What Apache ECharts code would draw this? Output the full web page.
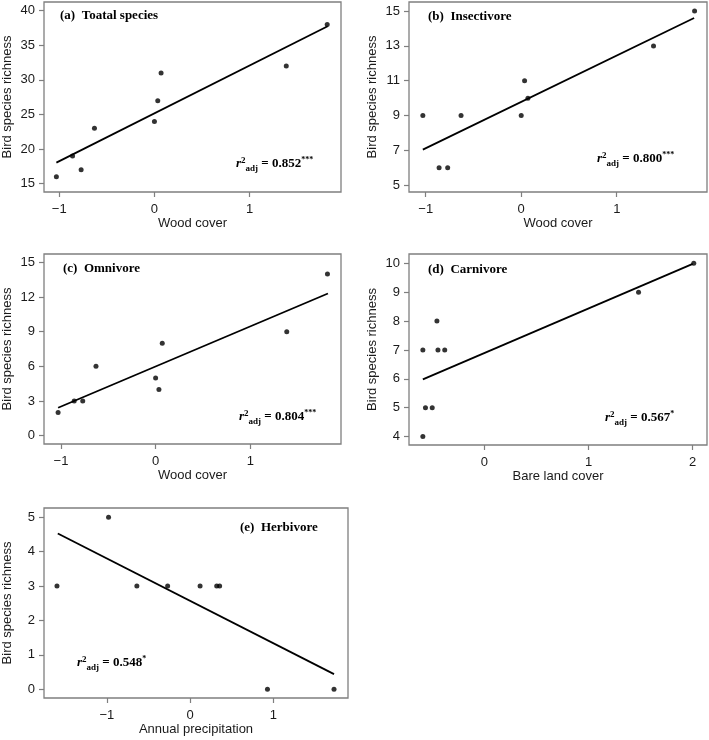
<!DOCTYPE html>
<html>
<head>
<meta charset="utf-8">
<style>
  html, body { margin: 0; padding: 0; background: #fff; }
  #chart { width: 709px; height: 740px; }
</style>
<script src="https://cdn.jsdelivr.net/npm/echarts@6/dist/echarts.min.js"></script>
</head>
<body>
<div id="chart"></div>
<script>
// x values (standardised predictors)
var woodCover = [-1.03, -0.86, -0.77, -0.63, 0.0, 0.035, 0.07, 1.385, 1.815];
var bareLand = [-0.59, -0.565, -0.50, -0.59, -0.455, -0.445, -0.38, 1.48, 2.01];
var precipitation = [-1.6, -0.98, -0.64, -0.27, 0.12, 0.32, 0.355, 0.93, 1.73];

// bird species richness
var totalSpecies = [16, 19, 17, 23, 24, 27, 31, 32, 38];
var insectivore = [9, 6, 6, 9, 9, 11, 10, 13, 15];
var omnivore = [2, 3, 3, 6, 5, 4, 8, 9, 14];
var carnivore = [7, 5, 5, 4, 8, 7, 7, 9, 10];
var herbivore = [3, 5, 3, 3, 3, 3, 3, 0, 0];

// fitted lines (end points)
var fitA = [[-1.03, 18.05], [1.82, 37.75]];
var fitB = [[-1.03, 7.04], [1.81, 14.6]];
var fitC = [[-1.03, 2.42], [1.82, 12.3]];
var fitD = [[-0.59, 5.98], [2.0, 9.98]];
var fitE = [[-1.59, 4.53], [1.73, 0.44]];

// tick labels
var xTicksWood = [-1, 0, 1];
var xTicksBare = [0, 1, 2];
var xTicksPrec = [-1, 0, 1];
var yTicksA = [15, 20, 25, 30, 35, 40];
var yTicksB = [5, 7, 9, 11, 13, 15];
var yTicksC = [0, 3, 6, 9, 12, 15];
var yTicksD = [4, 5, 6, 7, 8, 9, 10];
var yTicksE = [0, 1, 2, 3, 4, 5];

var panelTitles = ['(a)  Toatal species', '(b)  Insectivore', '(c)  Omnivore', '(d)  Carnivore', '(e)  Herbivore'];
var r2Values = ['0.852', '0.800', '0.804', '0.567', '0.548'];
var r2Stars = ['***', '***', '***', '*', '*'];
var xNames = ['Wood cover', 'Wood cover', 'Wood cover', 'Bare land cover', 'Annual precipitation'];

function zip(xs, ys) {
    var out = [];
    for (var i = 0; i < xs.length; i++) {
        out.push([xs[i], ys[i]]);
    }
    return out;
}

function minus(v) {
    return String(v).replace('-', '\u2212');
}

var frameColor = '#7f7f7f';
var textColor = '#1a1a1a';
var sans = '"Liberation Sans", Arial, sans-serif';
var serif = '"Liberation Serif", "Times New Roman", serif';

var grids = [
    { left: 43, top: 2, width: 298, height: 190 },
    { left: 409, top: 2, width: 298, height: 190 },
    { left: 43, top: 254, width: 298, height: 190 },
    { left: 409, top: 254, width: 298, height: 191 },
    { left: 43, top: 508, width: 305, height: 190 }
];
var xRanges = [[-1.16, 1.96], [-1.175, 1.945], [-1.179, 1.958], [-0.723, 2.137], [-1.756, 1.898]];
var yRanges = [[13.8, 41.26], [4.61, 15.52], [-0.72, 15.72], [3.71, 10.32], [-0.253, 5.27]];
var xTicks = [xTicksWood, xTicksWood, xTicksWood, xTicksBare, xTicksPrec];
var yTicks = [yTicksA, yTicksB, yTicksC, yTicksD, yTicksE];
var points = [
    zip(woodCover, totalSpecies),
    zip(woodCover, insectivore),
    zip(woodCover, omnivore),
    zip(bareLand, carnivore),
    zip(precipitation, herbivore)
];
var fits = [fitA, fitB, fitC, fitD, fitE];

// text positions: [left, centre y]
var titlePos = [[60, 16], [428, 17], [63, 269], [428, 270], [240, 528]];
var r2Pos = [[236, 164], [597, 159], [239, 417], [605, 418], [77, 663]];

var xAxes = [], yAxes = [], series = [], graphics = [];
for (var i = 0; i < 5; i++) {
    grids[i].show = true;
    grids[i].borderColor = frameColor;
    grids[i].borderWidth = 1.3;
    grids[i].backgroundColor = 'transparent';

    xAxes.push({
        type: 'value',
        gridIndex: i,
        min: xRanges[i][0],
        max: xRanges[i][1],
        name: xNames[i],
        nameLocation: 'middle',
        nameGap: 23,
        nameTextStyle: { fontFamily: sans, fontSize: 13, color: textColor },
        axisLine: { show: false, onZero: false },
        axisTick: { show: true, customValues: xTicks[i], length: 5, inside: false, lineStyle: { color: frameColor, width: 1.2 } },
        axisLabel: { customValues: xTicks[i], margin: 11, fontFamily: sans, fontSize: 13, color: textColor, formatter: minus },
        splitLine: { show: false }
    });
    yAxes.push({
        type: 'value',
        gridIndex: i,
        min: yRanges[i][0],
        max: yRanges[i][1],
        name: 'Bird species richness',
        nameLocation: 'middle',
        nameGap: 30,
        nameTextStyle: { fontFamily: sans, fontSize: 13, color: textColor },
        axisLine: { show: false, onZero: false },
        axisTick: { show: true, customValues: yTicks[i], length: 5, inside: false, lineStyle: { color: frameColor, width: 1.2 } },
        axisLabel: { customValues: yTicks[i], margin: 9, fontFamily: sans, fontSize: 13, color: textColor, formatter: minus },
        splitLine: { show: false }
    });
    series.push({
        type: 'line',
        xAxisIndex: i,
        yAxisIndex: i,
        data: fits[i],
        symbol: 'none',
        lineStyle: { color: '#000', width: 1.8 },
        silent: true,
        z: 2
    });
    series.push({
        type: 'scatter',
        xAxisIndex: i,
        yAxisIndex: i,
        data: points[i],
        symbol: 'circle',
        symbolSize: 5,
        itemStyle: { color: '#000' },
        z: 3
    });

    graphics.push({
        type: 'text',
        x: titlePos[i][0],
        y: titlePos[i][1],
        style: {
            text: panelTitles[i],
            font: 'bold 13px ' + serif,
            fill: '#000',
            verticalAlign: 'middle'
        }
    });
    graphics.push({
        type: 'text',
        x: r2Pos[i][0],
        y: r2Pos[i][1],
        style: {
            text: '{r|r}{sup|2}{sub|adj}{m| = ' + r2Values[i] + '}{st|' + r2Stars[i] + '}',
            verticalAlign: 'middle',
            rich: {
                r: { fontFamily: serif, fontSize: 13, fontWeight: 'bold', fontStyle: 'italic', fill: '#000', lineHeight: 20, verticalAlign: 'middle' },
                sup: { fontFamily: serif, fontSize: 9, fontWeight: 'bold', fill: '#000', lineHeight: 20, verticalAlign: 'top', padding: [2, 0, 0, 0] },
                sub: { fontFamily: serif, fontSize: 9, fontWeight: 'bold', fill: '#000', lineHeight: 20, verticalAlign: 'bottom', padding: [0, 0, 1, 0] },
                m: { fontFamily: serif, fontSize: 13, fontWeight: 'bold', fill: '#000', lineHeight: 20, verticalAlign: 'middle' },
                st: { fontFamily: serif, fontSize: 8, fontWeight: 'bold', fill: '#000', lineHeight: 20, verticalAlign: 'top', padding: [2, 0, 0, 0] }
            }
        }
    });
}

var myChart = echarts.init(document.getElementById('chart'));
myChart.setOption({
    backgroundColor: '#fff',
    animation: false,
    grid: grids,
    xAxis: xAxes,
    yAxis: yAxes,
    series: series,
    graphic: graphics
});
</script>
</body>
</html>
